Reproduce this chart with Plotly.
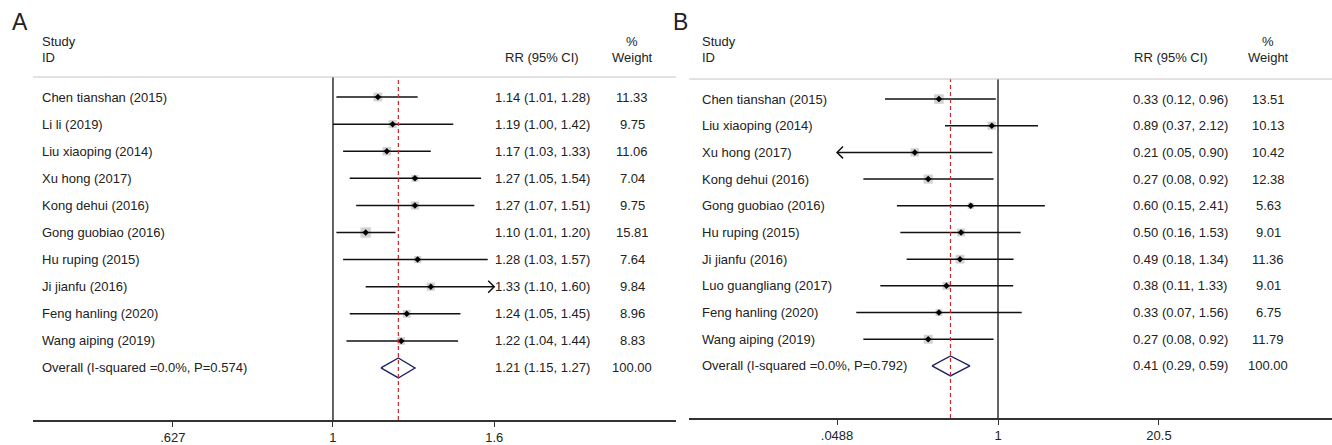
import math
import plotly.graph_objects as go

# ---------------- data ----------------
studies_A = ["Chen tianshan (2015)", "Li li (2019)", "Liu xiaoping (2014)", "Xu hong (2017)",
             "Kong dehui (2016)", "Gong guobiao (2016)", "Hu ruping (2015)", "Ji jianfu (2016)",
             "Feng hanling (2020)", "Wang aiping (2019)"]
rr_A = [1.14, 1.19, 1.17, 1.27, 1.27, 1.10, 1.28, 1.33, 1.24, 1.22]
lo_A = [1.01, 1.00, 1.03, 1.05, 1.07, 1.01, 1.03, 1.10, 1.05, 1.04]
hi_A = [1.28, 1.42, 1.33, 1.54, 1.51, 1.20, 1.57, 1.604, 1.45, 1.44]
w_A = [11.33, 9.75, 11.06, 7.04, 9.75, 15.81, 7.64, 9.84, 8.96, 8.83]
overall_label_A = "Overall (I-squared =0.0%, P=0.574)"
overall_A = [1.21, 1.15, 1.27]
ticks_A = [0.627, 1, 1.6]
ticktext_A = [".627", "1", "1.6"]

studies_B = ["Chen tianshan (2015)", "Liu xiaoping (2014)", "Xu hong (2017)", "Kong dehui (2016)",
             "Gong guobiao (2016)", "Hu ruping (2015)", "Ji jianfu (2016)", "Luo guangliang (2017)",
             "Feng hanling (2020)", "Wang aiping (2019)"]
rr_B = [0.33, 0.89, 0.21, 0.27, 0.60, 0.50, 0.49, 0.38, 0.33, 0.27]
lo_B = [0.12, 0.37, 0.048, 0.08, 0.15, 0.16, 0.18, 0.11, 0.07, 0.08]
hi_B = [0.96, 2.12, 0.90, 0.92, 2.41, 1.53, 1.34, 1.33, 1.56, 0.92]
w_B = [13.51, 10.13, 10.42, 12.38, 5.63, 9.01, 11.36, 9.01, 6.75, 11.79]
overall_label_B = "Overall (I-squared =0.0%, P=0.792)"
overall_B = [0.41, 0.29, 0.59]
ticks_B = [0.0488, 1, 20.5]
ticktext_B = [".0488", "1", "20.5"]

# ---------------- layout constants ----------------
W, H = 1332, 445
FONT = "Liberation Sans, Arial, sans-serif"
TXT = "#222222"
BOX = "#bdbdbd"
NAVY = "#1c2160"
RED = "#c8282d"

panels = [
    dict(name="A", studies=studies_A, rr=rr_A, lo=lo_A, hi=hi_A, w=w_A,
         ov=overall_A, ovlab=overall_label_A, ticks=ticks_A, ticktext=ticktext_A,
         xpx=(33, 676), ypx=(77, 420), xrange=(-0.3798, 0.4343), yrange=(11.92, -0.74),
         letter_x=20, label_x=40, rr_x=542, rrh_x=542, w_x=632, box_k=2.6, row_px=27.1),
    dict(name="B", studies=studies_B, rr=rr_B, lo=lo_B, hi=hi_B, w=w_B,
         ov=overall_B, ovlab=overall_label_B, ticks=ticks_B, ticktext=ticktext_B,
         xpx=(689, 1332), ypx=(79, 418), xrange=(-2.5177, 2.7214), yrange=(11.95, -0.75),
         letter_x=680, label_x=700, rr_x=1180, rrh_x=1171, w_x=1268, box_k=2.6, row_px=26.7),
]

fig = go.Figure()
annotations = []
shapes = []

for k, p in enumerate(panels):
    ax = "" if k == 0 else str(k + 1)
    xa, ya = "x" + ax, "y" + ax
    n = len(p["studies"])
    rows = list(range(n))
    xmin, xmax = min(p["ticks"]), max(p["ticks"])
    px_per_log10 = (p["xpx"][1] - p["xpx"][0]) / (p["xrange"][1] - p["xrange"][0])

    def shift(x, dpx):
        return 10 ** (math.log10(x) + dpx / px_per_log10)

    # weight boxes
    fig.add_trace(go.Scatter(
        x=p["rr"], y=rows, mode="markers", xaxis=xa, yaxis=ya,
        marker=dict(symbol="square", size=[p["box_k"] * math.sqrt(w) for w in p["w"]],
                    color=BOX, line=dict(width=0)),
        showlegend=False, hoverinfo="skip"))

    # CI lines (clipped to axis range) and arrows
    cx, cy, arx, ary = [], [], [], []
    ah = 6 / p["row_px"]
    for i in rows:
        lo, hi = p["lo"][i], p["hi"][i]
        lo_c, hi_c = max(lo, xmin), min(hi, xmax)
        cx += [lo_c, hi_c, None]
        cy += [i, i, None]
        if hi > xmax:
            arx += [shift(xmax, -6), xmax, shift(xmax, -6), None]
            ary += [i - ah, i, i + ah, None]
        if lo < xmin:
            arx += [shift(xmin, 6), xmin, shift(xmin, 6), None]
            ary += [i - ah, i, i + ah, None]
    fig.add_trace(go.Scatter(x=cx, y=cy, mode="lines", xaxis=xa, yaxis=ya,
                             line=dict(color="#111111", width=1.5),
                             showlegend=False, hoverinfo="skip"))
    if arx:
        fig.add_trace(go.Scatter(x=arx, y=ary, mode="lines", xaxis=xa, yaxis=ya,
                                 line=dict(color="#111111", width=1.5),
                                 showlegend=False, hoverinfo="skip"))

    # point estimates
    fig.add_trace(go.Scatter(
        x=p["rr"], y=rows, mode="markers", xaxis=xa, yaxis=ya,
        marker=dict(symbol="diamond", size=5, color="#000000"),
        showlegend=False, hoverinfo="skip"))

    # overall diamond
    est, olo, ohi = p["ov"]
    oy = n
    dh = 10 / p["row_px"]
    fig.add_trace(go.Scatter(
        x=[olo, est, ohi, est, olo], y=[oy, oy - dh, oy, oy + dh, oy],
        mode="lines", xaxis=xa, yaxis=ya, line=dict(color=NAVY, width=1.4),
        showlegend=False, hoverinfo="skip"))

    # reference lines
    shapes.append(dict(type="line", xref=xa, yref=ya + " domain", x0=1, x1=1, y0=0, y1=1,
                       line=dict(color="#111111", width=1.3)))
    shapes.append(dict(type="line", xref=xa, yref=ya + " domain", x0=est, x1=est, y0=0, y1=1,
                       line=dict(color=RED, width=1.2, dash="4px,3px")))
    # header separator
    ytop = 1 - p["ypx"][0] / H
    shapes.append(dict(type="line", xref="paper", yref="paper",
                       x0=p["xpx"][0] / W, x1=p["xpx"][1] / W, y0=ytop, y1=ytop,
                       line=dict(color="#c4c4c4", width=1)))

    # axes
    axis_kw = dict(type="log", range=list(p["xrange"]),
                   domain=[p["xpx"][0] / W, p["xpx"][1] / W],
                   showgrid=False, zeroline=False, showline=True, linecolor="#333333",
                   linewidth=1.5, ticks="outside", ticklen=5, tickwidth=1.2, tickcolor="#333333",
                   tickvals=p["ticks"], ticktext=p["ticktext"],
                   tickfont=dict(family=FONT, size=13, color=TXT), anchor=ya, fixedrange=True)
    yaxis_kw = dict(range=list(p["yrange"]),
                    domain=[1 - p["ypx"][1] / H, 1 - p["ypx"][0] / H],
                    showgrid=False, zeroline=False, showline=False, showticklabels=False,
                    ticks="", anchor=xa, fixedrange=True)
    fig.update_layout(**{"xaxis" + ax: axis_kw, "yaxis" + ax: yaxis_kw})

    # text columns
    def ann(text, x, y, yref, xanchor="left", size=13):
        annotations.append(dict(text=text, x=x / W, y=y, xref="paper", yref=yref,
                                xanchor=xanchor, yanchor="middle", showarrow=False,
                                font=dict(family=FONT, size=size, color=TXT)))

    labels = p["studies"] + [p["ovlab"]]
    rrs = [f"{r:.2f} ({l:.2f}, {h:.2f})" for r, l, h in zip(p["rr"], p["lo"], p["hi"])]
    rrs.append(f"{est:.2f} ({olo:.2f}, {ohi:.2f})")
    ws = [f"{w:.2f}" for w in p["w"]] + ["100.00"]
    for i, (lab, rtxt, wtxt) in enumerate(zip(labels, rrs, ws)):
        ann(lab, p["label_x"], i, ya)
        ann(rtxt, p["rr_x"], i, ya, "center")
        ann(wtxt, p["w_x"], i, ya, "center")

    # headers
    ann("Study", p["label_x"], 1 - 42 / H, "paper")
    ann("ID", p["label_x"], 1 - 57 / H, "paper")
    ann("RR (95% CI)", p["rrh_x"], 1 - 57 / H, "paper", "center")
    ann("%", p["w_x"], 1 - 42 / H, "paper", "center")
    ann("Weight", p["w_x"], 1 - 57 / H, "paper", "center")
    ann(p["name"], p["letter_x"], 1 - 22 / H, "paper", "center", size=23)

fig.update_layout(
    width=W, height=H, margin=dict(l=0, r=0, t=0, b=0, autoexpand=False),
    paper_bgcolor="white", plot_bgcolor="white", showlegend=False,
    annotations=annotations, shapes=shapes,
    font=dict(family=FONT, size=13, color=TXT),
)

fig.write_html("out.html", config={"displayModeBar": False},
               post_script="document.body.style.margin='0';document.body.style.overflow='hidden';")
